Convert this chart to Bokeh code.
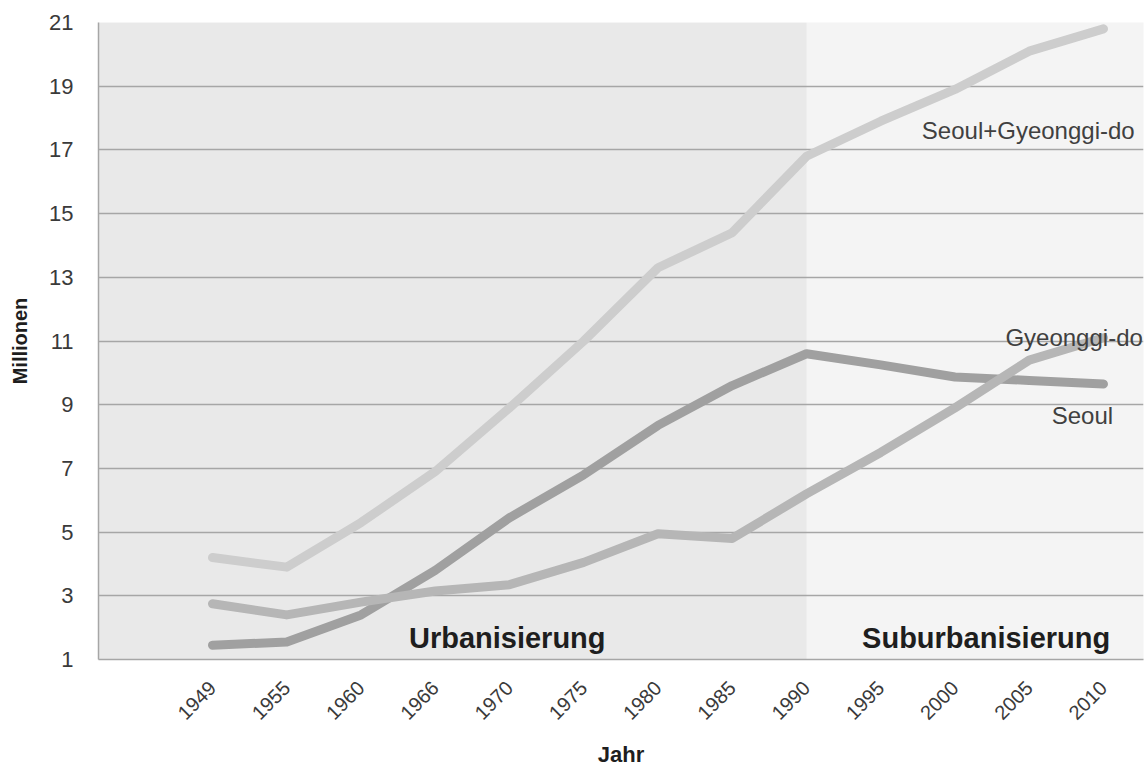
import math
from bokeh.plotting import figure
from bokeh.models import Range1d, FixedTicker, BoxAnnotation, Label
from bokeh.embed import file_html
from bokeh.resources import INLINE

# ---- data ----
years = ["1949", "1955", "1960", "1966", "1970", "1975", "1980",
         "1985", "1990", "1995", "2000", "2005", "2010"]
seoul_gyeonggi = [4.2, 3.9, 5.3, 6.9, 8.9, 11.0, 13.3, 14.4, 16.8, 17.9, 18.9, 20.1, 20.8]
seoul = [1.45, 1.55, 2.4, 3.8, 5.45, 6.8, 8.35, 9.6, 10.6, 10.25, 9.87, 9.76, 9.65]
gyeonggi = [2.75, 2.4, 2.8, 3.15, 3.35, 4.05, 4.95, 4.8, 6.2, 7.5, 8.9, 10.4, 11.1]
y_ticks = [1, 3, 5, 7, 9, 11, 13, 15, 17, 19, 21]
split_year = "1990"

x = list(range(len(years)))
split_x = years.index(split_year)

FONT = "Liberation Sans"
GRID = "#a6a6a6"

p = figure(width=1147, height=769, output_backend="svg", toolbar_location=None,
           x_range=Range1d(-1.535, 12.539), y_range=Range1d(1, 21),
           min_border_left=98, min_border_right=4, min_border_top=22,
           min_border_bottom=110)
p.outline_line_color = None
p.background_fill_color = "#f4f4f4"
p.border_fill_color = "white"

p.add_layout(BoxAnnotation(right=split_x, fill_color="#e9e9e9", fill_alpha=1,
                           line_color=None, level="image"))

p.line(x, seoul_gyeonggi, line_width=9, line_color="#cdcdcd",
       line_cap="round", line_join="round")
p.line(x, seoul, line_width=9, line_color="#a0a0a0",
       line_cap="round", line_join="round")
p.line(x, gyeonggi, line_width=9, line_color="#b6b6b6",
       line_cap="round", line_join="round")

# axes
p.xaxis.ticker = FixedTicker(ticks=x)
p.xaxis.major_label_overrides = {i: yr for i, yr in zip(x, years)}
p.xaxis.major_label_orientation = math.pi / 4
p.xaxis.major_label_text_font_size = "20px"
p.xaxis.major_label_standoff = 25
p.xaxis.axis_label = "Jahr"
p.xaxis.axis_label_standoff = 13

p.yaxis.ticker = FixedTicker(ticks=y_ticks)
p.yaxis.major_label_text_font_size = "22px"
p.yaxis.major_label_standoff = 25
p.yaxis.axis_label = "Millionen"
p.yaxis.axis_label_standoff = 15

for ax in (p.xaxis[0], p.yaxis[0]):
    ax.major_label_text_font = FONT
    ax.major_label_text_color = "#3a3a3a"
    ax.major_tick_in = 0
    ax.major_tick_out = 0
    ax.minor_tick_line_color = None
    ax.axis_line_color = GRID
    ax.axis_line_width = 1.5
    ax.axis_label_text_font = FONT
    ax.axis_label_text_font_style = "bold"
    ax.axis_label_text_color = "#1e1e1e"
p.xaxis.axis_label_text_font_size = "22px"
p.yaxis.axis_label_text_font_size = "20px"

p.xgrid.visible = False
p.ygrid.grid_line_color = GRID
p.ygrid.grid_line_width = 1.5

# series labels
for txt, xx, yy in [("Seoul+Gyeonggi-do", 12.42, 17.61),
                    ("Gyeonggi-do", 12.53, 11.11),
                    ("Seoul", 12.13, 8.66)]:
    p.add_layout(Label(x=xx, y=yy, text=txt, text_align="right",
                       text_baseline="alphabetic", text_font=FONT,
                       text_font_size="24px", text_color="#404040"))

# phase labels
for txt, xx in [("Urbanisierung", 3.97), ("Suburbanisierung", 10.42)]:
    p.add_layout(Label(x=xx, y=1.68, text=txt, text_align="center",
                       text_baseline="alphabetic", text_font=FONT,
                       text_font_style="bold", text_font_size="29px",
                       text_color="#1e1e1e"))

open("out.html", "w").write(file_html(p, INLINE))
